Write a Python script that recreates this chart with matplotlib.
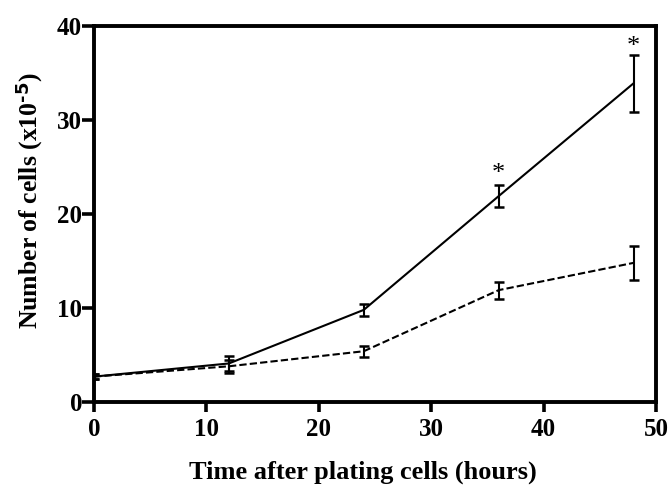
import numpy as np
import matplotlib
matplotlib.use("Agg")
import matplotlib.pyplot as plt

plt.rcParams['font.family'] = ['Liberation Serif', 'DejaVu Serif']
plt.rcParams['font.weight'] = 'bold'
plt.rcParams['mathtext.default'] = 'regular'

# data
hours = [0, 12, 24, 36, 48]
treated = [2.7, 4.1, 9.8, 21.9, 33.9]
treated_err = [0.3, 0.8, 0.6, 1.2, 3.0]
control = [2.7, 3.8, 5.4, 11.9, 14.8]
control_err = [0.3, 0.7, 0.6, 0.9, 1.8]
star_hours = [36, 48]
star_vals = [24.3, 37.8]

fig = plt.figure(figsize=(6.68, 4.93), dpi=100)
ax = fig.add_axes([94 / 668, 1 - 402 / 493, (656 - 94) / 668, (402 - 26) / 493])

ax.errorbar(hours, treated, yerr=treated_err, color='black', lw=1.5,
            capsize=3.5, capthick=1.8, elinewidth=1.5)
ax.errorbar(hours, control, yerr=control_err, color='black', lw=1.5,
            ls=(0, (3.5, 1.5)), capsize=3.5, capthick=1.8, elinewidth=1.5)

for h, v in zip(star_hours, star_vals):
    ax.text(h, v, '*', ha='center', va='center', fontsize=19, fontweight='normal')

ax.set_xlim(0, 50)
ax.set_ylim(0, 40)
ax.set_xticks([0, 10, 20, 30, 40, 50])
ax.set_yticks([0, 10, 20, 30, 40])

for s in ax.spines.values():
    s.set_linewidth(2.8)
ax.tick_params(direction='out', width=2.6, labelsize=18)
ax.tick_params(axis='x', length=7.5, pad=4)
ax.tick_params(axis='y', length=8.5, pad=0)

ax.set_xlabel('Time after plating cells (hours)', fontsize=19, fontweight='bold', labelpad=14)
ax.xaxis.label.set_x(0.479)
ax.set_ylabel('Number of cells (x10$^{\\text{-5}}$)', fontsize=18.5, fontweight='bold', labelpad=9)
ax.yaxis.label.set_y(0.537)

fig.savefig('out.png', dpi=100)
